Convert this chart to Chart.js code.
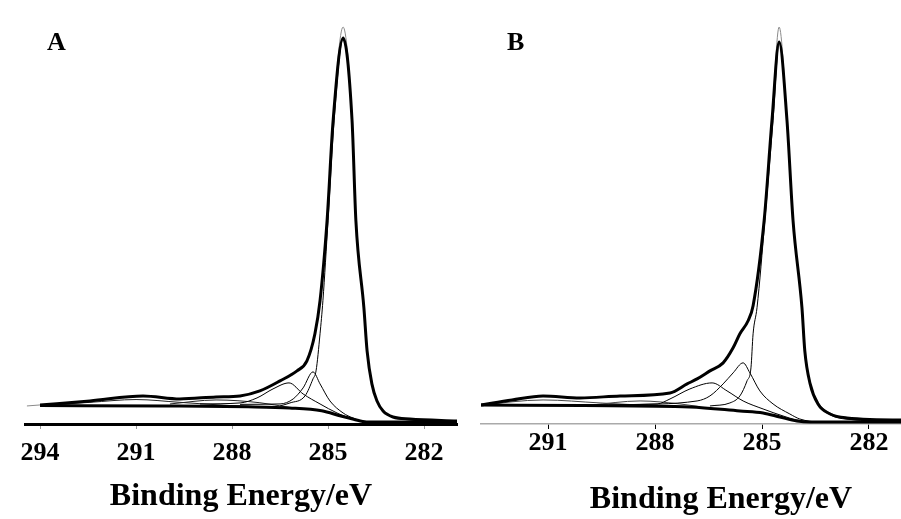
<!DOCTYPE html>
<html>
<head>
<meta charset="utf-8">
<script src="https://cdn.jsdelivr.net/npm/chart.js@4.4.1/dist/chart.umd.min.js"></script>
<style>
    body { margin: 0; background: #fff; overflow: hidden; width: 901px; height: 519px; position: relative; }
    canvas { position: absolute; top: 0; }
    #chart-a { left: 0; }
    #chart-b { left: 460px; }
    .panel-label { position: absolute; font-family: "Liberation Serif", "Times New Roman", serif; font-weight: bold; font-size: 26px; line-height: 26px; }
</style>
</head>
<body>
<canvas id="chart-a" width="460" height="519"></canvas>
<canvas id="chart-b" width="501" height="519"></canvas>
<div class="panel-label" style="left:47px; top:29px;">A</div>
<div class="panel-label" style="left:507px; top:29px;">B</div>
<script>
// Tick labels (binding energy, eV)
const ticksA = [294, 291, 288, 285, 282];
const ticksB = [291, 288, 285, 282];

// Panel A - raw spectrum (thin grey)
const rawA_E = [294.41, 294.0, 292.44, 290.78, 289.63, 288.5, 287.75, 287.13, 286.5, 285.97, 285.66, 285.41, 285.25, 285.03, 284.84, 284.53, 284.25, 284.13, 283.88, 283.78, 283.63, 283.47, 283.28, 282.97, 282.44, 280.97];
const rawA_I = [4.5, 4.75, 5.75, 7.0, 6.25, 6.75, 7.0, 8.25, 10.75, 13.25, 15.75, 22.5, 30.75, 50.75, 75.75, 99.0, 75.75, 50.75, 29.0, 18.5, 10.5, 6.0, 3.5, 1.75, 1.25, 0.75];
// Panel A - fitted envelope (thick)
const envA_E = [294.0, 292.44, 290.78, 289.63, 288.5, 287.75, 287.13, 286.5, 285.97, 285.66, 285.41, 285.25, 285.03, 284.84, 284.53, 284.25, 284.13, 283.88, 283.78, 283.63, 283.47, 283.28, 282.97, 282.44, 280.97];
const envA_I = [4.75, 5.75, 7.0, 6.25, 6.75, 7.0, 8.25, 10.75, 13.25, 15.75, 22.5, 30.75, 50.75, 75.75, 96.25, 75.75, 50.75, 29.0, 18.25, 10.0, 5.75, 3.25, 1.75, 1.25, 0.75];
// Panel A - components (thin)
const c1A_E = [286.5, 286.19, 285.72, 285.47, 285.375, 285.25, 285.16, 285.0, 284.81, 284.53, 284.25, 284.13, 283.88, 283.78, 283.63, 283.47, 283.28, 282.97, 282.44, 280.97];
const c1A_I = [4.5, 5.25, 7.0, 11.25, 13.25, 22.5, 30.75, 50.75, 75.75, 96.0, 75.75, 50.75, 29.0, 18.25, 10.0, 5.75, 3.25, 1.75, 1.0, 0.5];
const c2A_E = [287.75, 286.5, 286.09, 285.78, 285.47, 285.25, 284.94, 284.53, 284.22, 283.78, 280.97];
const c2A_I = [4.9, 5.0, 6.25, 9.0, 13.0, 10.0, 5.75, 2.75, 1.5, 0.5, 0.5];
const c3A_E = [289.0, 287.75, 287.22, 286.72, 286.22, 285.78, 285.25, 284.72, 284.22, 283.69, 280.97];
const c3A_I = [5.0, 5.25, 6.5, 8.75, 10.25, 7.5, 5.0, 2.75, 1.25, 0.5, 0.5];
const c4A_E = [294.0, 292.44, 291.0, 289.63, 288.06, 286.8];
const c4A_I = [4.6, 5.4, 6.1, 5.4, 4.6, 4.2];
const c5A_E = [289.94, 288.5, 287.13, 286.19];
const c5A_I = [5.0, 6.0, 5.3, 4.1];
// Panel A - background (thick)
const bgA_E = [294.0, 290.0, 287.5, 286.2, 285.2, 284.6, 284.2, 283.8, 280.97];
const bgA_I = [4.6, 4.5, 4.3, 4.0, 3.3, 2.0, 1.2, 0.5, 0.5];

// Panel B - raw spectrum
const rawB_E = [292.88, 292.01, 291.14, 290.1, 288.98, 287.58, 287.1, 286.82, 286.46, 286.09, 285.81, 285.62, 285.39, 285.25, 284.94, 284.72, 284.52, 284.3, 284.13, 283.88, 283.8, 283.65, 283.43, 283.09, 282.62, 281.1, 279.4];
const rawB_I = [4.75, 6.0, 7.0, 6.5, 7.0, 7.75, 10.0, 11.25, 13.25, 15.25, 19.0, 22.5, 25.75, 29.5, 50.75, 75.75, 99.0, 75.75, 50.75, 29.0, 18.5, 10.5, 5.5, 2.75, 1.5, 1.0, 1.0];
// Panel B - fitted envelope
const envB_E = [292.88, 292.01, 291.14, 290.1, 288.98, 287.58, 287.1, 286.82, 286.46, 286.09, 285.81, 285.62, 285.39, 285.25, 284.94, 284.72, 284.52, 284.3, 284.13, 283.88, 283.8, 283.65, 283.43, 283.09, 282.62, 281.1, 279.4];
const envB_I = [4.75, 6.0, 7.0, 6.5, 7.0, 7.75, 10.0, 11.25, 13.25, 15.25, 19.0, 22.5, 25.75, 29.5, 50.75, 75.75, 95.25, 75.75, 50.75, 29.0, 18.25, 10.0, 5.0, 2.5, 1.5, 1.0, 1.0];
// Panel B - components
const c1B_E = [286.46, 285.9, 285.62, 285.42, 285.31, 285.25, 285.14, 284.92, 284.69, 284.52, 284.3, 284.13, 283.88, 283.8, 283.65, 283.43, 283.09, 282.62, 281.1, 279.4];
const c1B_I = [4.5, 5.25, 7.0, 10.75, 14.0, 22.5, 29.0, 50.75, 75.75, 95.0, 75.75, 50.75, 29.0, 18.25, 10.0, 5.0, 2.3, 1.2, 0.7, 0.7];
const c2B_E = [288.98, 286.82, 286.46, 286.09, 285.81, 285.53, 285.34, 285.06, 284.69, 284.22, 283.94, 283.37, 279.4];
const c2B_I = [4.75, 5.75, 7.0, 10.0, 12.75, 15.25, 12.75, 8.25, 5.0, 2.5, 1.25, 0.5, 0.5];
const c3B_E = [290.66, 287.94, 287.58, 287.02, 286.4, 285.98, 285.53, 284.97, 284.41, 284.02, 283.37, 279.4];
const c3B_I = [4.75, 5.0, 6.25, 8.75, 10.25, 8.25, 5.75, 3.75, 2.0, 1.0, 0.5, 0.5];
const c4B_E = [292.88, 291.14, 289.54, 288.14];
const c4B_I = [4.75, 6.0, 5.25, 4.6];
const c5B_E = [289.82, 288.42, 287.3, 286.74];
const c5B_I = [4.7, 5.75, 5.0, 4.3];
// Panel B - background
const bgB_E = [292.88, 290.0, 287.02, 285.62, 284.97, 284.5, 284.02, 283.65, 279.4];
const bgB_I = [4.75, 4.6, 4.25, 3.25, 2.75, 1.75, 0.75, 0.5, 0.5];

const FONT = '"Liberation Serif", "Times New Roman", serif';

// Build one line dataset from an energy list and an intensity list
function line(energies, values, width, color) {
    return {
        data: energies.map((e, i) => ({ x: e, y: values[i] })),
        borderColor: color,
        borderWidth: width,
        pointRadius: 0,
        fill: false,
        cubicInterpolationMode: 'monotone'
    };
}

// Draw one spectrum panel
function makePanel(id, datasets, range, tickVals, axis) {
    const ctx = document.getElementById(id).getContext('2d');
    return new Chart(ctx, {
        type: 'line',
        data: { datasets: datasets },
        options: {
            responsive: false,
            animation: false,
            devicePixelRatio: 1,
            layout: { padding: axis.padding },
            plugins: { legend: { display: false }, tooltip: { enabled: false } },
            scales: {
                x: {
                    type: 'linear',
                    reverse: true,
                    min: range[0],
                    max: range[1],
                    afterBuildTicks: scale => { scale.ticks = tickVals.map(v => ({ value: v })); },
                    border: { display: true, color: axis.borderColor, width: axis.borderWidth },
                    grid: { drawOnChartArea: false, drawTicks: true, tickLength: 5, tickColor: axis.tickColor, tickWidth: 1 },
                    ticks: {
                        color: '#000',
                        padding: axis.tickPadding,
                        maxRotation: 0,
                        font: { family: FONT, size: 26, weight: 'bold', lineHeight: 1 }
                    },
                    title: {
                        display: true,
                        text: 'Binding Energy/eV',
                        color: '#000',
                        padding: { top: axis.titleTop, bottom: 0 },
                        font: { family: FONT, size: 32, weight: 'bold', lineHeight: 1 }
                    }
                },
                y: { display: false, min: 0, max: 100 }
            }
        }
    });
}

document.addEventListener('DOMContentLoaded', () => {
    makePanel('chart-a', [
        line(envA_E, envA_I, 3, '#000'),
        line(bgA_E, bgA_I, 3, '#000'),
        line(c1A_E, c1A_I, 1, '#000'),
        line(c2A_E, c2A_I, 1, '#000'),
        line(c3A_E, c3A_I, 1, '#000'),
        line(c4A_E, c4A_I, 1, '#222'),
        line(c5A_E, c5A_I, 1, '#222'),
        line(rawA_E, rawA_I, 1, '#8a8a8a')
    ], [280.97, 294.47], ticksA, {
        padding: { left: 25, right: 3, top: 23, bottom: 6 },
        borderColor: '#000', borderWidth: 3, tickColor: '#999',
        tickPadding: 11, titleTop: 4
    });

    makePanel('chart-b', [
        line(envB_E, envB_I, 3, '#000'),
        line(bgB_E, bgB_I, 3, '#000'),
        line(c1B_E, c1B_I, 1, '#000'),
        line(c2B_E, c2B_I, 1, '#000'),
        line(c3B_E, c3B_I, 1, '#000'),
        line(c4B_E, c4B_I, 1, '#444'),
        line(c5B_E, c5B_I, 1, '#444'),
        line(rawB_E, rawB_I, 1, '#8a8a8a')
    ], [279.42, 292.88], ticksB, {
        padding: { left: 21, right: 0, top: 23, bottom: 3 },
        borderColor: '#aaa', borderWidth: 1.5, tickColor: '#000',
        tickPadding: 1, titleTop: 27
    });
});
</script>
</body>
</html>
